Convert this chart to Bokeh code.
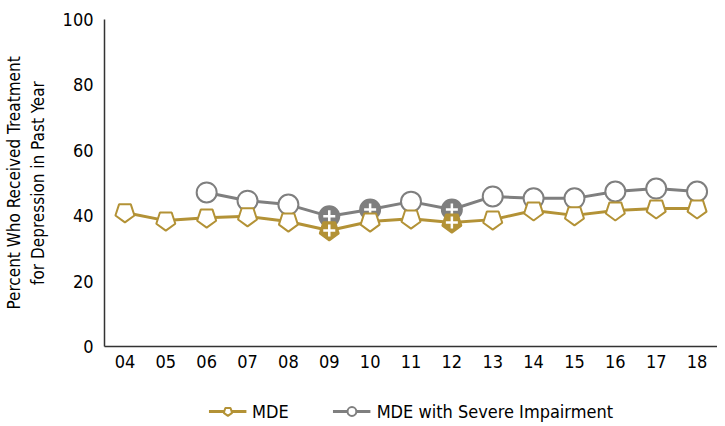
import math
from bokeh.plotting import figure
from bokeh.layouts import column
from bokeh.models import Legend, LegendItem, FactorRange, Range1d, SingleIntervalTicker
from bokeh.embed import file_html
from bokeh.resources import INLINE

years = ["04", "05", "06", "07", "08", "09", "10", "11", "12", "13", "14", "15", "16", "17", "18"]
mde = [41.0, 38.5, 39.4, 39.8, 38.2, 35.5, 38.2, 39.1, 37.9, 38.8, 41.6, 40.1, 41.6, 42.2, 42.2]
mde_sig = [False, False, False, False, False, True, False, False, True, False, False, False, False, False, False]
severe_years = ["06", "07", "08", "09", "10", "11", "12", "13", "14", "15", "16", "17", "18"]
severe = [47.1, 44.6, 43.4, 39.8, 41.9, 44.3, 41.9, 45.9, 45.3, 45.3, 47.4, 48.3, 47.4]
severe_sig = [False, False, False, True, True, False, True, False, False, False, False, False, False]
series_names = ["MDE", "MDE with Severe Impairment"]

GOLD = "#B39236"
GRAY = "#7F7F7F"
FONT = "DejaVu Sans Condensed"

p = figure(width=717, height=372, sizing_mode="fixed",
           x_range=FactorRange(factors=years, range_padding=0),
           y_range=Range1d(0, 100), output_backend="svg", toolbar_location=None,
           min_border_left=96, min_border_right=0, min_border_top=19, min_border_bottom=26)
p.outline_line_color = None
p.grid.grid_line_color = None
p.background_fill_color = "white"

# severe impairment series
sx_f = [x for x, s in zip(severe_years, severe_sig) if s]
sy_f = [y for y, s in zip(severe, severe_sig) if s]
sx_o = [x for x, s in zip(severe_years, severe_sig) if not s]
sy_o = [y for y, s in zip(severe, severe_sig) if not s]
p.line(severe_years, severe, line_color=GRAY, line_width=3)
p.scatter(sx_o, sy_o, marker="circle", size=20, line_color=GRAY, line_width=2, fill_color="white")
p.scatter(sx_f, sy_f, marker="circle", size=20, line_color=GRAY, line_width=2, fill_color=GRAY)
p.scatter(sx_f, sy_f, marker="cross", size=12, line_color="white", line_width=2.5)

# MDE series
mx_f = [x for x, s in zip(years, mde_sig) if s]
my_f = [y for y, s in zip(mde, mde_sig) if s]
mx_o = [x for x, s in zip(years, mde_sig) if not s]
my_o = [y for y, s in zip(mde, mde_sig) if not s]
p.line(years, mde, line_color=GOLD, line_width=3)
p.ngon(mx_o, my_o, radius=10, radius_units="screen", n=5, angle=math.pi,
       line_color=GOLD, line_width=2, fill_color="white")
p.ngon(mx_f, my_f, radius=10, radius_units="screen", n=5, angle=math.pi,
       line_color=GOLD, line_width=2, fill_color=GOLD)
p.scatter(mx_f, my_f, marker="cross", size=12, line_color="white", line_width=2.5)

for ax in (p.xaxis[0], p.yaxis[0]):
    ax.major_tick_line_color = None
    ax.minor_tick_line_color = None
    ax.major_tick_in = 0
    ax.major_tick_out = 0
    ax.minor_tick_in = 0
    ax.minor_tick_out = 0
    ax.axis_line_color = "#333333"
    ax.axis_line_width = 1.5
    ax.major_label_text_font = FONT
    ax.major_label_text_font_size = "18px"
    ax.major_label_text_color = "black"

p.yaxis.ticker = SingleIntervalTicker(interval=20)
p.yaxis.major_label_standoff = 11
p.xaxis.major_label_standoff = 8
p.xaxis.group_text_font_size = "0px"
p.yaxis.axis_label = "Percent Who Received Treatment\nfor Depression in Past Year"
p.yaxis.axis_label_text_font = FONT
p.yaxis.axis_label_text_font_size = "17px"
p.yaxis.axis_label_text_font_style = "normal"
p.yaxis.axis_label_text_color = "black"
p.yaxis.axis_label_standoff = 12

# legend strip: same series drawn off-range (invisible) so the legend can show their swatches
lp = figure(width=717, height=50, sizing_mode="fixed",
            x_range=FactorRange(factors=years, range_padding=0), y_range=Range1d(-2, -1),
            output_backend="svg", toolbar_location=None, x_axis_type=None, y_axis_type=None,
            min_border_left=96, min_border_right=0, min_border_top=28, min_border_bottom=0)
lp.outline_line_color = None
lp.grid.grid_line_color = None
l1 = lp.line(years, mde, line_color=GOLD, line_width=3)
m1 = lp.ngon(years, mde, radius=9, radius_units="screen", n=5, angle=math.pi,
             line_color=GOLD, line_width=2, fill_color="white")
l2 = lp.line(severe_years, severe, line_color=GRAY, line_width=3)
m2 = lp.scatter(severe_years, severe, marker="circle", size=18, line_color=GRAY, line_width=2,
                fill_color="white")

legend = Legend(items=[LegendItem(label=series_names[0], renderers=[l1, m1], index=0),
                       LegendItem(label=series_names[1], renderers=[l2, m2], index=0)],
                orientation="horizontal", location="center")
legend.border_line_color = None
legend.background_fill_alpha = 0
legend.label_text_font = FONT
legend.label_text_font_size = "18px"
legend.label_text_color = "black"
legend.glyph_width = 38
legend.glyph_height = 22
legend.spacing = 44
legend.label_standoff = 6
legend.margin = 0
legend.padding = 0
lp.add_layout(legend)

layout = column(p, lp, spacing=0, width=717, sizing_mode="fixed")
open("out.html", "w").write(file_html(layout, INLINE))
